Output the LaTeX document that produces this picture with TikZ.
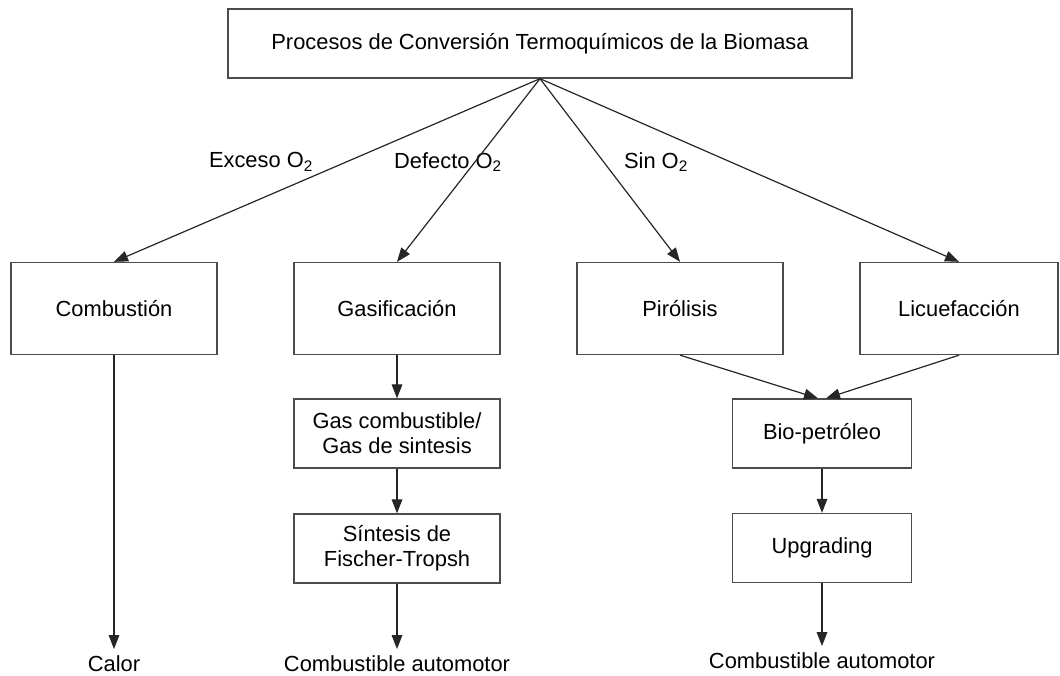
\documentclass[tikz,border=0pt]{standalone}
\usepackage{fontspec}
\setmainfont{Liberation Sans}
\usetikzlibrary{positioning,arrows.meta}

\begin{document}
\begin{tikzpicture}[
  x=0.75pt, y=-0.75pt,
  txt/.style={font=\fontsize{16.4}{18.8}\selectfont, align=center},
  caja/.style={txt, draw=black!70, line width=1pt, inner sep=0pt},
  grande/.style={caja, minimum width=154.5pt, minimum height=69pt},
  chica/.style={caja, minimum width=154.5pt, minimum height=51.75pt},
  fin/.style={txt, inner sep=5pt},
  arr/.style={-{Triangle[length=10.5pt,width=8pt]}, line width=0.9pt, black!85}
]
  \useasboundingbox (0,0) rectangle (1060,675);

  % Main process
  \node[caja, minimum width=468pt, minimum height=51.75pt] (proc) at (540,43.5)
    {Procesos de Conversión Termoquímicos de la Biomasa};

  % First level
  \node[grande] (comb) at (114,308.5) {Combustión};
  \node[grande] (gasi) at (397,308.5) {Gasificación};
  \node[grande] (piro) at (680,308.5) {Pirólisis};
  \node[grande, minimum width=148.5pt] (licu) at (959,308.5) {Licuefacción};

  % Oxygen conditions
  \node[txt] (exceso) at (261,162) {Exceso O\textsubscript{2}};
  \node[txt] (defecto) at (448,162) {Defecto O\textsubscript{2}};
  \node[txt] (sin) at (656,162) {Sin O\textsubscript{2}};

  \foreach \n in {comb,gasi,piro,licu}
    \draw[arr] (proc.south) -- (\n.north);

  % Gasification branch
  \node[chica] (gas) at (397,433.5) {Gas combustible/\\Gas de sintesis};
  \node[chica] (fischer) at (397,548.5) {Síntesis de\\Fischer-Tropsh};
  \node[fin] (auto1) at (397,664) {Combustible automotor};

  \draw[arr] (gasi.south) -- (gas.north);
  \draw[arr] (gas.south) -- (fischer.north);
  \draw[arr] (fischer.south) -- (auto1.north);

  % Combustion
  \node[fin] (calor) at (114,664) {Calor};
  \draw[arr] (comb.south) -- (calor.north);

  % Pyrolysis / liquefaction branch
  \node[chica, minimum width=134.25pt] (bio) at (822,433.5) {Bio-petróleo};
  \node[chica, minimum width=134.25pt] (upg) at (822,548) {Upgrading};
  \node[fin] (auto2) at (822,661) {Combustible automotor};

  \draw[arr] (piro.south) -- ([xshift=-3pt]bio.north);
  \draw[arr] (licu.south) -- ([xshift=3pt]bio.north);
  \draw[arr] (bio.south) -- (upg.north);
  \draw[arr] (upg.south) -- (auto2.north);
\end{tikzpicture}
\end{document}
